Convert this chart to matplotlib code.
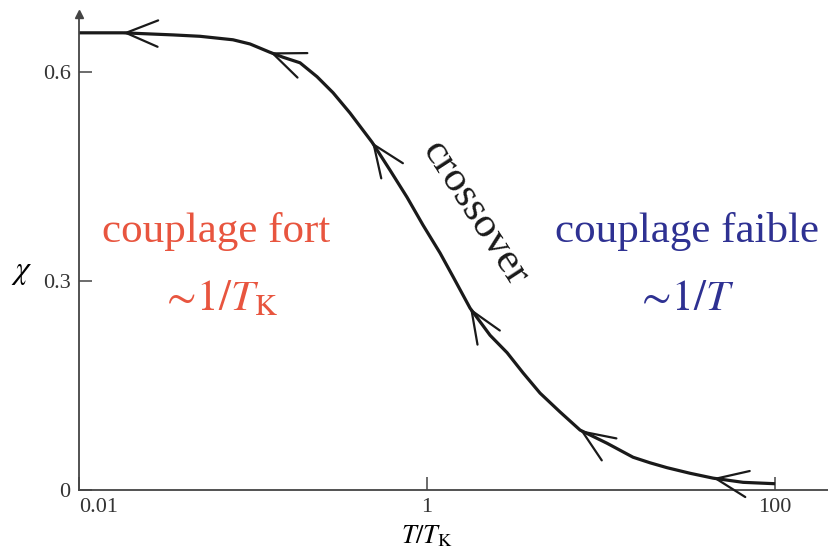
import numpy as np
import matplotlib
matplotlib.use("Agg")
import matplotlib.pyplot as plt
from matplotlib.ticker import NullLocator

# susceptibility against reduced temperature
t_ratio = [0.01, 0.0179, 0.0347, 0.0496, 0.0767, 0.0961, 0.1253, 0.1486, 0.1862,
           0.2333, 0.2884, 0.3606, 0.4831, 0.6124, 0.7674, 0.9484, 1.188, 1.411,
           1.766, 2.302, 2.884, 3.563, 4.460, 5.808, 7.572, 10.83, 15.27, 19.13,
           23.94, 32.46, 44.03, 65.47, 100]
chi = [0.656, 0.656, 0.653, 0.651, 0.646, 0.640, 0.628, 0.621, 0.613,
       0.593, 0.570, 0.541, 0.499, 0.459, 0.420, 0.380, 0.340, 0.306,
       0.261, 0.222, 0.197, 0.168, 0.139, 0.112, 0.086, 0.067, 0.047, 0.039,
       0.032, 0.024, 0.017, 0.011, 0.009]

# flow arrows sit on these points and point towards low T
arrow_t = [0.0179, 0.1253, 0.4831, 1.766, 7.572, 44.03]

x_ticks = [0.01, 1, 100]
x_ticklabels = ["0.01", "1", "100"]
y_ticks = [0, 0.3, 0.6]
y_ticklabels = ["0", "0.3", "0.6"]

red = "#e8553f"
blue = "#2e3192"
ink = "#1a1a1a"
axis_grey = "#444444"

plt.rcParams["font.family"] = ["Liberation Serif", "DejaVu Serif"]
plt.rcParams["mathtext.fontset"] = "stix"

fig = plt.figure(figsize=(8.29, 5.49), dpi=100)
ax = fig.add_axes([79 / 829, 59 / 549, 750 / 829, 476 / 549])
ax.set_xscale("log")
ax.set_xlim(0.01, 204)
ax.set_ylim(0, 0.683)

for side in ("top", "right"):
    ax.spines[side].set_visible(False)
for side in ("left", "bottom"):
    ax.spines[side].set_color(axis_grey)
    ax.spines[side].set_linewidth(1.3)

ax.set_xticks(x_ticks)
ax.set_xticklabels(x_ticklabels)
ax.set_yticks(y_ticks)
ax.set_yticklabels(y_ticklabels)
ax.xaxis.set_minor_locator(NullLocator())
ax.tick_params(direction="in", length=9.5, width=1.1, color=axis_grey,
               labelsize=16, labelcolor="#333333", pad=6)
ax.get_xticklabels()[0].set_ha("left")

# arrow tip on the y axis
ax.plot([0.01], [0.683], marker="^", ms=6, color=axis_grey, clip_on=False)

ax.plot(t_ratio, chi, color=ink, lw=2.3, solid_joinstyle="round",
        solid_capstyle="butt")

# open arrowheads along the curve, oriented by the local tangent
pts = ax.transData.transform(np.column_stack([t_ratio, chi]))
for t in arrow_t:
    i = t_ratio.index(t)
    d = pts[i + 1] - pts[i - 1]
    d = d / np.hypot(*d)
    ax.annotate("", xy=(t, chi[i]), xytext=(d[0], d[1]), textcoords="offset points",
                arrowprops=dict(arrowstyle="->,head_length=2.3,head_width=0.95",
                                lw=1.6, color=ink, shrinkA=0, shrinkB=0,
                                mutation_scale=10))

ax.set_xlabel(r"$T/T_{\mathrm{K}}$", fontsize=19, labelpad=3)
ax.xaxis.set_label_coords(0.464, -0.07)
ax.set_ylabel(r"$\chi$", fontsize=23, rotation=0, ha="center", va="center")
ax.yaxis.set_label_coords(-0.076, 0.456)

ax.text(0.183, 0.521, "couplage fort", color=red, fontsize=31,
        ha="center", va="baseline", transform=ax.transAxes)
ax.text(0.187, 0.378, r"${\sim}\!1/T_{\mathrm{K}}$", color=red, fontsize=31,
        ha="center", va="baseline", transform=ax.transAxes)
ax.text(0.811, 0.521, "couplage faible", color=blue, fontsize=31,
        ha="center", va="baseline", transform=ax.transAxes)
ax.text(0.807, 0.378, r"${\sim}\!1/T$", color=blue, fontsize=31,
        ha="center", va="baseline", transform=ax.transAxes)
ax.text(0.528, 0.582, "crossover", color=ink, fontsize=31, rotation=-57,
        rotation_mode="anchor", ha="center", va="center", transform=ax.transAxes)

fig.savefig("out.png", dpi=100)
